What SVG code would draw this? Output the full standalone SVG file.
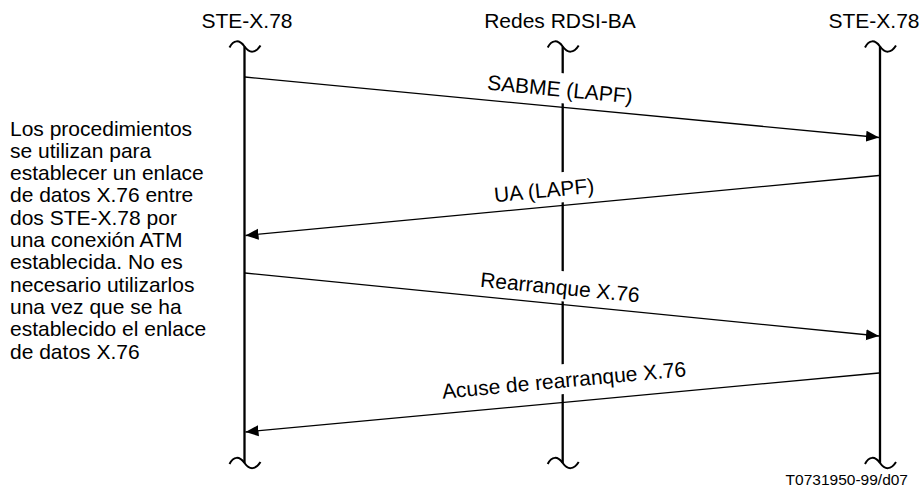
<svg xmlns="http://www.w3.org/2000/svg" width="921" height="492" viewBox="0 0 921 492">
<style>
text{font-family:"Liberation Sans",Arial,sans-serif;fill:#000}
.hd{font-size:21px;text-anchor:middle}
.lb{font-size:21px;text-anchor:middle}
.nt{font-size:21px}
.ft{font-size:15.5px;text-anchor:end}
.life{stroke:#000;stroke-width:2.3;fill:none}
.tl{stroke:#000;stroke-width:2;fill:none}
.msg{stroke:#000;stroke-width:1.3;fill:none}
.bg{fill:#fff}
</style>
<defs>
<path id="tilde" d="M-15,1 C-11,-7 -5,-7 0,0 C5,7 11,7 16,-1"/>
<marker id="ah" markerUnits="userSpaceOnUse" markerWidth="14" markerHeight="12" refX="13" refY="6" orient="auto">
<path d="M0,0.5 L13,6 L0,11.5 Z" fill="#000"/>
</marker>
</defs>
<rect width="921" height="492" fill="#fff"/>
<g id="ste-left">
<text class="hd" x="247" y="28">STE-X.78</text>
<line class="life" x1="244.5" y1="46.5" x2="244.5" y2="463"/>
<use href="#tilde" class="tl" x="244.5" y="46.5"/>
<use href="#tilde" class="tl" x="244.5" y="463"/>
</g>
<g id="redes">
<text class="hd" x="560" y="28">Redes RDSI-BA</text>
<line class="life" x1="562.7" y1="46.5" x2="562.7" y2="463"/>
<use href="#tilde" class="tl" x="562.7" y="46.5"/>
<use href="#tilde" class="tl" x="562.7" y="463"/>
</g>
<g id="ste-right">
<text class="hd" x="874" y="28">STE-X.78</text>
<line class="life" x1="880" y1="46.5" x2="880" y2="463"/>
<use href="#tilde" class="tl" x="880" y="46.5"/>
<use href="#tilde" class="tl" x="880" y="463"/>
</g>
<g id="note">
<text class="nt" x="10">
<tspan x="10" y="135.5">Los procedimientos</tspan>
<tspan x="10" y="157.8">se utilizan para</tspan>
<tspan x="10" y="180.1">establecer un enlace</tspan>
<tspan x="10" y="202.4">de datos X.76 entre</tspan>
<tspan x="10" y="224.7">dos STE-X.78 por</tspan>
<tspan x="10" y="247">una conexión ATM</tspan>
<tspan x="10" y="269.3">establecida. No es</tspan>
<tspan x="10" y="291.6">necesario utilizarlos</tspan>
<tspan x="10" y="313.9">una vez que se ha</tspan>
<tspan x="10" y="336.2">establecido el enlace</tspan>
<tspan x="10" y="358.5">de datos X.76</tspan>
</text>
</g>
<g id="connectors">
<g transform="translate(560,89) rotate(5.4)">
<rect class="bg" x="-76" y="-16" width="152" height="30"/>
<text class="lb" x="0" y="7.5">SABME (LAPF)</text>
</g>
<line class="msg" x1="245" y1="77" x2="879" y2="137.5" marker-end="url(#ah)"/>
<g transform="translate(544,190) rotate(-5.4)">
<rect class="bg" x="-50" y="-16" width="100" height="30"/>
<text class="lb" x="0" y="7.5">UA (LAPF)</text>
</g>
<line class="msg" x1="879" y1="175.5" x2="245.5" y2="235.5" marker-end="url(#ah)"/>
<g transform="translate(560,287) rotate(5.6)">
<rect class="bg" x="-82" y="-16" width="164" height="30"/>
<text class="lb" x="0" y="7.5">Rearranque X.76</text>
</g>
<line class="msg" x1="245" y1="273" x2="879" y2="336" marker-end="url(#ah)"/>
<g transform="translate(564,380) rotate(-5.3)">
<rect class="bg" x="-126" y="-16" width="252" height="30"/>
<text class="lb" x="0" y="7.5">Acuse de rearranque X.76</text>
</g>
<line class="msg" x1="879" y1="373" x2="245.5" y2="432" marker-end="url(#ah)"/>
</g>
<text class="ft" x="908" y="485">T0731950-99/d07</text>
</svg>
